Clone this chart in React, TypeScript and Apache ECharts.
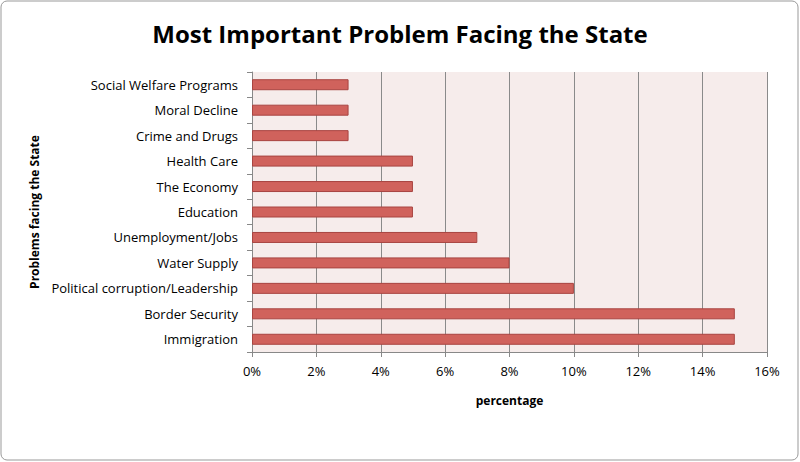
import React, { useEffect, useRef } from 'react';
import * as echarts from 'echarts';

const categories = [
  'Immigration', 'Border Security', 'Political corruption/Leadership', 'Water Supply',
  'Unemployment/Jobs', 'Education', 'The Economy', 'Health Care', 'Crime and Drugs',
  'Moral Decline', 'Social Welfare Programs',
];
const values = [15, 15, 10, 8, 7, 5, 5, 5, 3, 3, 3];

const font = '"Open Sans", "Noto Sans", sans-serif';

const App: React.FC = () => {
  const ref = useRef<HTMLDivElement>(null);
  useEffect(() => {
    if (!ref.current) return;
    const chart = echarts.init(ref.current, null, { renderer: 'svg' });
    chart.setOption({
      animation: false,
      title: {
        text: 'Most Important Problem Facing the State',
        left: 'center', top: 16,
        textStyle: { fontFamily: font, fontSize: 24, fontWeight: 'bold', color: '#000' },
      },
      graphic: [{
        type: 'rect', shape: { x: 1, y: 1, width: 797, height: 459, r: 6 },
        style: { fill: 'none', stroke: '#999', lineWidth: 1 }, silent: true,
      }],
      grid: {
        left: 252, right: 33, top: 72, bottom: 110,
        show: true, backgroundColor: '#f6eceb', borderWidth: 0,
      },
      xAxis: {
        type: 'value', min: 0, max: 16, interval: 2,
        name: 'percentage', nameLocation: 'middle', nameGap: 42,
        nameTextStyle: { fontFamily: font, fontSize: 12, fontWeight: 'bold', color: '#000' },
        axisLabel: { formatter: '{value}%', fontFamily: font, fontSize: 13, color: '#000', margin: 12 },
        axisLine: { show: true, lineStyle: { color: '#888' } },
        axisTick: { show: true, length: 5, lineStyle: { color: '#888' } },
        splitLine: { show: true, lineStyle: { color: '#8a8a8a', width: 1 } },
      },
      yAxis: {
        type: 'category', data: categories,
        name: 'Problems facing the State', nameLocation: 'middle', nameGap: 212, nameRotate: 90,
        nameTextStyle: { fontFamily: font, fontSize: 12, fontWeight: 'bold', color: '#000' },
        axisLabel: { fontFamily: font, fontSize: 13, color: '#000', margin: 14 },
        axisLine: { show: true, lineStyle: { color: '#888' } },
        axisTick: { show: true, length: 5, lineStyle: { color: '#888' } },
      },
      series: [{
        type: 'bar', data: values, barWidth: 11,
        itemStyle: { color: '#d0625c', borderColor: '#a84440', borderWidth: 1 },
      }],
    });
    return () => chart.dispose();
  }, []);
  return <div ref={ref} style={{ position: 'absolute', left: 0, top: 0, width: 800, height: 462 }} />;
};

export default App;
